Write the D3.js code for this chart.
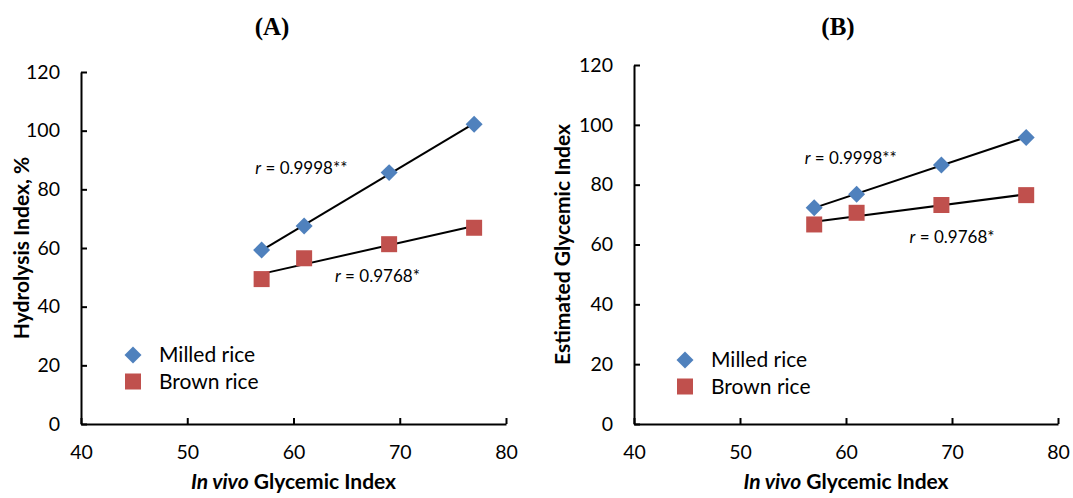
<!DOCTYPE html>
<html>
<head>
<meta charset="utf-8">
<script src="https://cdn.jsdelivr.net/npm/d3@7"></script>
<style>
  body { margin: 0; background: #fff; }
  svg { display: block; }
  .tick text { font-family: Lato, "Open Sans", sans-serif; font-size: 19.5px; fill: #000; }
  .tick line, .domain { stroke: #000; stroke-width: 2px; }
</style>
</head>
<body>
<svg id="chart" width="1073" height="498"></svg>
<script>
// values
var giInVivo = [57, 61, 69, 77];
var hydrolysisMilled = [59.3, 67.5, 85.7, 102.2];
var hydrolysisBrown = [49.4, 56.5, 61.3, 66.9];
var estimatedMilled = [72.3, 76.8, 86.6, 95.8];
var estimatedBrown = [66.7, 70.6, 73.2, 76.5];
var xTicks = [40, 50, 60, 70, 80];
var yTicks = [0, 20, 40, 60, 80, 100, 120];
var seriesNames = ["Milled rice", "Brown rice"];
var rLabels = ["0.9998**", "0.9768*"];

var blue = "#4F81BD", red = "#C0504D";

var svg = d3.select("#chart");

var panels = [
  {title: "(A)", ytitle: "Hydrolysis Index, %", milled: hydrolysisMilled, brown: hydrolysisBrown,
   left: 81, right: 506, top: 72, bottom: 424, titleX: 272,
   r1: [56.4, 87.3], r2: [63.9, 50.5], legX: 133, legY: 355, ytitleX: 22},
  {title: "(B)", ytitle: "Estimated Glycemic Index", milled: estimatedMilled, brown: estimatedBrown,
   left: 634, right: 1058, top: 65, bottom: 424, titleX: 838,
   r1: [56.1, 88.9], r2: [66.0, 62.6], legX: 685, legY: 360, ytitleX: 563}
];

function fit(xs, ys) {
  var mx = d3.mean(xs), my = d3.mean(ys);
  var sxy = d3.sum(xs, (x, i) => (x - mx) * (ys[i] - my));
  var sxx = d3.sum(xs, x => (x - mx) * (x - mx));
  var b = sxy / sxx;
  return x => my + b * (x - mx);
}

panels.forEach(function(p) {
  var x = d3.scaleLinear().domain([40, 80]).range([p.left, p.right]);
  var y = d3.scaleLinear().domain([0, 120]).range([p.bottom, p.top]);
  var g = svg.append("g");

  g.append("text")
    .attr("x", p.titleX).attr("y", 35)
    .attr("text-anchor", "middle")
    .style("font-family", "'Liberation Serif', serif")
    .style("font-weight", "bold").style("font-size", "25px")
    .text(p.title);

  g.append("g")
    .attr("transform", `translate(0,${p.bottom})`)
    .call(d3.axisBottom(x).tickValues(xTicks).tickSizeInner(-6).tickSizeOuter(0).tickPadding(21));

  g.append("g")
    .attr("transform", `translate(${p.left},0)`)
    .call(d3.axisLeft(y).tickValues(yTicks).tickSizeInner(-6).tickSizeOuter(0).tickPadding(21));

  g.append("text")
    .attr("x", (p.left + p.right) / 2).attr("y", 489)
    .attr("text-anchor", "middle")
    .style("font-family", "Lato, sans-serif").style("font-weight", "bold").style("font-size", "21px")
    .call(t => {
      t.append("tspan").style("font-style", "italic").text("In vivo");
      t.append("tspan").text(" Glycemic Index");
    });

  g.append("text")
    .attr("transform", `translate(${p.ytitleX},${(p.top + p.bottom) / 2}) rotate(-90)`)
    .attr("text-anchor", "middle").attr("dy", "0.35em")
    .style("font-family", "Lato, sans-serif").style("font-weight", "bold").style("font-size", "21px")
    .text(p.ytitle);

  // trend lines
  [p.milled, p.brown].forEach(function(vals) {
    var f = fit(giInVivo, vals);
    var ends = d3.extent(giInVivo);
    g.append("line")
      .attr("x1", x(ends[0])).attr("y1", y(f(ends[0])))
      .attr("x2", x(ends[1])).attr("y2", y(f(ends[1])))
      .attr("stroke", "#000").attr("stroke-width", 2);
  });

  var diamond = d3.symbol().type(d3.symbolSquare).size(144);
  g.selectAll(".milled").data(p.milled).enter().append("path")
    .attr("d", diamond)
    .attr("transform", (d, i) => `translate(${x(giInVivo[i])},${y(d)}) rotate(45)`)
    .attr("fill", blue);

  g.selectAll(".brown").data(p.brown).enter().append("rect")
    .attr("x", (d, i) => x(giInVivo[i]) - 8).attr("y", d => y(d) - 8)
    .attr("width", 16).attr("height", 16)
    .attr("fill", red);

  // r annotations
  [[p.r1, rLabels[0]], [p.r2, rLabels[1]]].forEach(function(r) {
    var t = g.append("text")
      .attr("x", x(r[0][0])).attr("y", y(r[0][1])).attr("dy", "0.35em")
      .style("font-family", "Lato, sans-serif").style("font-size", "17px");
    t.append("tspan").style("font-style", "italic").text("r");
    t.append("tspan").text(" = " + r[1]);
  });

  // legend
  seriesNames.forEach(function(name, i) {
    var ly = p.legY + i * 26.5;
    if (i === 0) {
      g.append("path").attr("d", diamond)
        .attr("transform", `translate(${p.legX},${ly}) rotate(45)`).attr("fill", blue);
    } else {
      g.append("rect").attr("x", p.legX - 8).attr("y", ly - 8)
        .attr("width", 16).attr("height", 16).attr("fill", red);
    }
    g.append("text").attr("x", p.legX + 26).attr("y", ly).attr("dy", "0.35em")
      .style("font-family", "Lato, sans-serif").style("font-size", "21px")
      .text(name);
  });
});
</script>
</body>
</html>
